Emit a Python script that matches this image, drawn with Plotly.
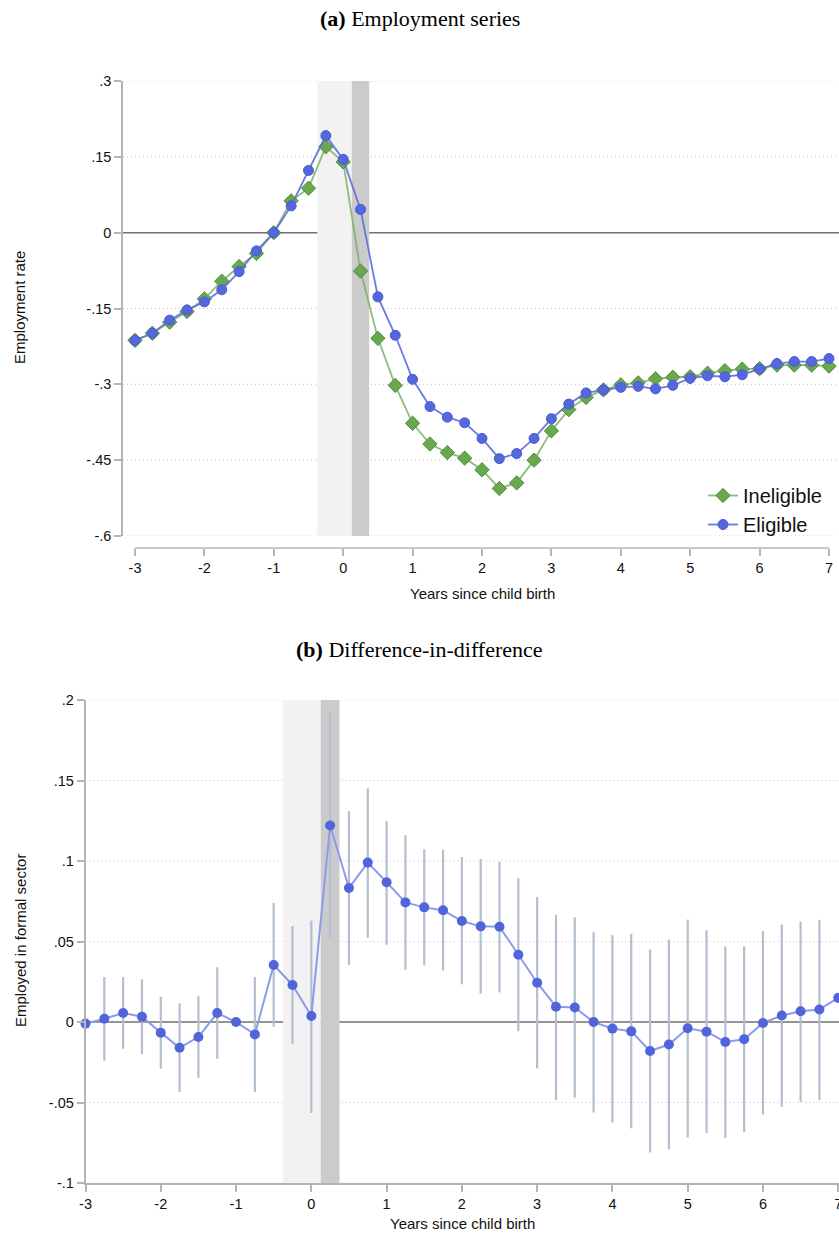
import plotly.graph_objects as go

W, H = 839, 1237

# Event time (years since child birth), quarterly
years = [-3.0, -2.75, -2.5, -2.25, -2.0, -1.75, -1.5, -1.25, -1.0, -0.75, -0.5, -0.25,
         0.0, 0.25, 0.5, 0.75, 1.0, 1.25, 1.5, 1.75, 2.0, 2.25, 2.5, 2.75,
         3.0, 3.25, 3.5, 3.75, 4.0, 4.25, 4.5, 4.75, 5.0, 5.25, 5.5, 5.75,
         6.0, 6.25, 6.5, 6.75, 7.0]

# Panel (a): employment rate relative to year -1
ineligible = [-0.213, -0.199, -0.177, -0.156, -0.131, -0.096, -0.067, -0.041, 0.000, 0.063, 0.088, 0.170,
              0.140, -0.076, -0.209, -0.302, -0.377, -0.418, -0.435, -0.446, -0.469, -0.506, -0.495, -0.450,
              -0.392, -0.350, -0.326, -0.311, -0.301, -0.297, -0.289, -0.286, -0.285, -0.278, -0.273, -0.270,
              -0.269, -0.262, -0.262, -0.262, -0.264]
eligible = [-0.213, -0.199, -0.173, -0.153, -0.137, -0.113, -0.077, -0.036, 0.000, 0.053, 0.123, 0.192,
            0.145, 0.046, -0.127, -0.203, -0.290, -0.344, -0.365, -0.376, -0.407, -0.447, -0.437, -0.407,
            -0.368, -0.339, -0.317, -0.311, -0.306, -0.304, -0.309, -0.302, -0.288, -0.283, -0.285, -0.281,
            -0.270, -0.259, -0.255, -0.255, -0.249]

# Panel (b): difference-in-difference estimates with 95% CI
did_coef = [-0.001, 0.002, 0.0056, 0.0033, -0.0066, -0.016, -0.0093, 0.0056, 0.000, -0.0077, 0.0354, 0.023,
            0.0037, 0.122, 0.0832, 0.099, 0.0868, 0.0743, 0.0712, 0.0694, 0.0627, 0.0594, 0.0592, 0.0418,
            0.0244, 0.0095, 0.009, 0.000, -0.0041, -0.0058, -0.018, -0.014, -0.0039, -0.006, -0.0124, -0.0107,
            -0.0006, 0.004, 0.0067, 0.0078, 0.015]
did_lo = [None, -0.024, -0.0166, -0.020, -0.029, -0.0435, -0.0346, -0.0228, None, -0.0435, -0.003, -0.0135,
          -0.0565, 0.0524, 0.0354, 0.0524, 0.048, 0.0325, 0.0352, 0.032, 0.0234, 0.0176, 0.0184, -0.0056,
          -0.0288, -0.0485, -0.047, -0.0562, -0.0624, -0.066, -0.081, -0.079, -0.0717, -0.069, -0.072, -0.0684,
          -0.0575, -0.0527, -0.0496, -0.0485, None]
did_hi = [None, 0.028, 0.028, 0.0265, 0.0157, 0.0116, 0.016, 0.034, None, 0.028, 0.074, 0.0596,
          0.063, 0.192, 0.131, 0.145, 0.1248, 0.116, 0.1073, 0.107, 0.1025, 0.1012, 0.0996, 0.0894,
          0.0776, 0.0665, 0.065, 0.0558, 0.054, 0.0547, 0.045, 0.0512, 0.0636, 0.057, 0.047, 0.047,
          0.0564, 0.0605, 0.0624, 0.0635, None]

x_ticks = [-3, -2, -1, 0, 1, 2, 3, 4, 5, 6, 7]
x_ticklabels = ["-3", "-2", "-1", "0", "1", "2", "3", "4", "5", "6", "7"]
top_yticks = [-0.6, -0.45, -0.3, -0.15, 0, 0.15, 0.3]
top_yticklabels = ["-.6", "-.45", "-.3", "-.15", "0", ".15", ".3"]
bot_yticks = [-0.1, -0.05, 0, 0.05, 0.1, 0.15, 0.2]
bot_yticklabels = ["-.1", "-.05", "0", ".05", ".1", ".15", ".2"]

# Shaded windows around birth
window_pre = (-0.375, 0.125)
window_birth = (0.125, 0.375)


def px_x(x):
    return x / W


def px_y(y):
    return 1 - y / H


SANS = "Liberation Sans, Arial, Helvetica, sans-serif"
SERIF = "Liberation Serif, Times New Roman, serif"
AXIS_GRAY = "#b4b4b4"
GRID_GRAY = "#c4c4c4"
ZERO_GRAY = "#707070"
tickfont = dict(family=SANS, size=14.5, color="#111111")

fig = go.Figure()

# ---- panel (a) ----
fig.add_trace(go.Scatter(
    x=years, y=ineligible, name="Ineligible", mode="lines+markers",
    line=dict(color="rgba(122,178,100,0.85)", width=1.8),
    marker=dict(symbol="diamond", size=11, color="#6aa84f",
                line=dict(color="#4f8c3a", width=1)),
    cliponaxis=False, xaxis="x", yaxis="y"))
fig.add_trace(go.Scatter(
    x=years, y=eligible, name="Eligible", mode="lines+markers",
    line=dict(color="rgba(90,108,222,0.9)", width=1.8),
    marker=dict(symbol="circle", size=10, color="#5467dc",
                line=dict(color="#4a5ccf", width=1)),
    cliponaxis=False, xaxis="x", yaxis="y"))

# ---- panel (b) ----
ci_x = [x for x, lo in zip(years, did_lo) if lo is not None]
ci_y = [c for c, lo in zip(did_coef, did_lo) if lo is not None]
ci_up = [h - c for c, lo, h in zip(did_coef, did_lo, did_hi) if lo is not None]
ci_dn = [c - lo for c, lo in zip(did_coef, did_lo) if lo is not None]
fig.add_trace(go.Scatter(
    x=ci_x, y=ci_y, mode="markers", marker=dict(size=1, opacity=0),
    error_y=dict(type="data", array=ci_up, arrayminus=ci_dn, symmetric=False,
                 color="#b3bfcf", thickness=2.2, width=0),
    showlegend=False, hoverinfo="skip", xaxis="x2", yaxis="y2"))
fig.add_trace(go.Scatter(
    x=years, y=did_coef, mode="lines+markers",
    line=dict(color="#8e9aea", width=2),
    marker=dict(symbol="circle", size=10, color="#5264da"),
    cliponaxis=False, showlegend=False, xaxis="x2", yaxis="y2"))

shapes = []
# dotted horizontal grid and zero line, drawn first so the windows cover them
for xr, yr, ticks in (("x domain", "y", top_yticks), ("x2 domain", "y2", bot_yticks)):
    for t in ticks:
        if t == 0:
            continue
        shapes.append(dict(type="line", xref=xr, x0=0, x1=1, yref=yr, y0=t, y1=t,
                           line=dict(color=GRID_GRAY, width=1, dash="1px,3px"), layer="below"))
    shapes.append(dict(type="line", xref=xr, x0=0, x1=1, yref=yr, y0=0, y1=0,
                       line=dict(color=ZERO_GRAY, width=1.5), layer="below"))
for xr, yr in (("x", "y domain"), ("x2", "y2 domain")):
    shapes.append(dict(type="rect", xref=xr, x0=window_pre[0], x1=window_pre[1],
                       yref=yr, y0=0, y1=1, fillcolor="#f2f2f2", line=dict(width=0),
                       layer="below"))
    shapes.append(dict(type="rect", xref=xr, x0=window_birth[0], x1=window_birth[1],
                       yref=yr, y0=0, y1=1, fillcolor="#cbcbcb", line=dict(width=0),
                       layer="below"))
# panel (a) x-axis line spans only the tick range
shapes.append(dict(type="line", xref="x", x0=x_ticks[0], x1=x_ticks[-1], yref="paper",
                   y0=px_y(548), y1=px_y(548), line=dict(color=AXIS_GRAY, width=1.5)))

annotations = [
    dict(text="<b>(a)</b> Employment series", xref="paper", yref="paper",
         x=0.5, y=px_y(19), xanchor="center", yanchor="middle", showarrow=False,
         font=dict(family=SERIF, size=22, color="#000000")),
    dict(text="<b>(b)</b> Difference-in-difference", xref="paper", yref="paper",
         x=0.5, y=px_y(649), xanchor="center", yanchor="middle", showarrow=False,
         font=dict(family=SERIF, size=22, color="#000000")),
    dict(text="Employment rate", xref="paper", yref="paper", x=px_x(20), y=px_y(308),
         xanchor="center", yanchor="middle", textangle=-90, showarrow=False,
         font=dict(family=SANS, size=15, color="#111111")),
    dict(text="Years since child birth", xref="paper", yref="paper", x=px_x(482), y=px_y(593),
         xanchor="center", yanchor="middle", showarrow=False,
         font=dict(family=SANS, size=15, color="#111111")),
    dict(text="Employed in formal sector", xref="paper", yref="paper", x=px_x(20), y=px_y(941),
         xanchor="center", yanchor="middle", textangle=-90, showarrow=False,
         font=dict(family=SANS, size=15, color="#111111")),
    dict(text="Years since child birth", xref="paper", yref="paper", x=px_x(462), y=px_y(1223),
         xanchor="center", yanchor="middle", showarrow=False,
         font=dict(family=SANS, size=15, color="#111111")),
]

common_x = dict(tickmode="array", tickvals=x_ticks, ticktext=x_ticklabels, ticks="outside",
                ticklen=7, tickwidth=1.5, tickcolor=AXIS_GRAY, showgrid=False, zeroline=False,
                tickfont=tickfont, fixedrange=True, automargin=False, ticklabeloverflow="allow")
common_y = dict(tickmode="array", ticks="outside", ticklen=7, tickwidth=1.5, tickcolor=AXIS_GRAY,
                showline=True, linecolor=AXIS_GRAY, linewidth=1.5, showgrid=False,
                zeroline=False, tickfont=tickfont, fixedrange=True, automargin=False)

fig.update_layout(
    width=W, height=H, margin=dict(l=0, r=0, t=0, b=0, pad=0, autoexpand=False),
    paper_bgcolor="white", plot_bgcolor="rgba(0,0,0,0)",
    xaxis=dict(domain=[px_x(123), 1.0], range=[-3 - 12 / 69.4, 7 + 10 / 69.4],
               anchor="free", position=px_y(548), showline=False, **common_x),
    yaxis=dict(domain=[px_y(536), px_y(81)], range=[-0.6, 0.3], anchor="x",
               tickvals=top_yticks, ticktext=top_yticklabels, **common_y),
    xaxis2=dict(domain=[px_x(85.5), 1.0], range=[-3, 7.01], anchor="y2",
                showline=True, linecolor=AXIS_GRAY, linewidth=1.5, **common_x),
    yaxis2=dict(domain=[px_y(1183), px_y(700)], range=[-0.1, 0.2], anchor="x2",
                tickvals=bot_yticks, ticktext=bot_yticklabels, **common_y),
    shapes=shapes, annotations=annotations,
    showlegend=True,
    legend=dict(x=px_x(703), y=px_y(476), xanchor="left", yanchor="top",
                bgcolor="rgba(0,0,0,0)", font=dict(family=SANS, size=20, color="#111111"),
                tracegroupgap=0),
)

fig.write_html("out.html")
